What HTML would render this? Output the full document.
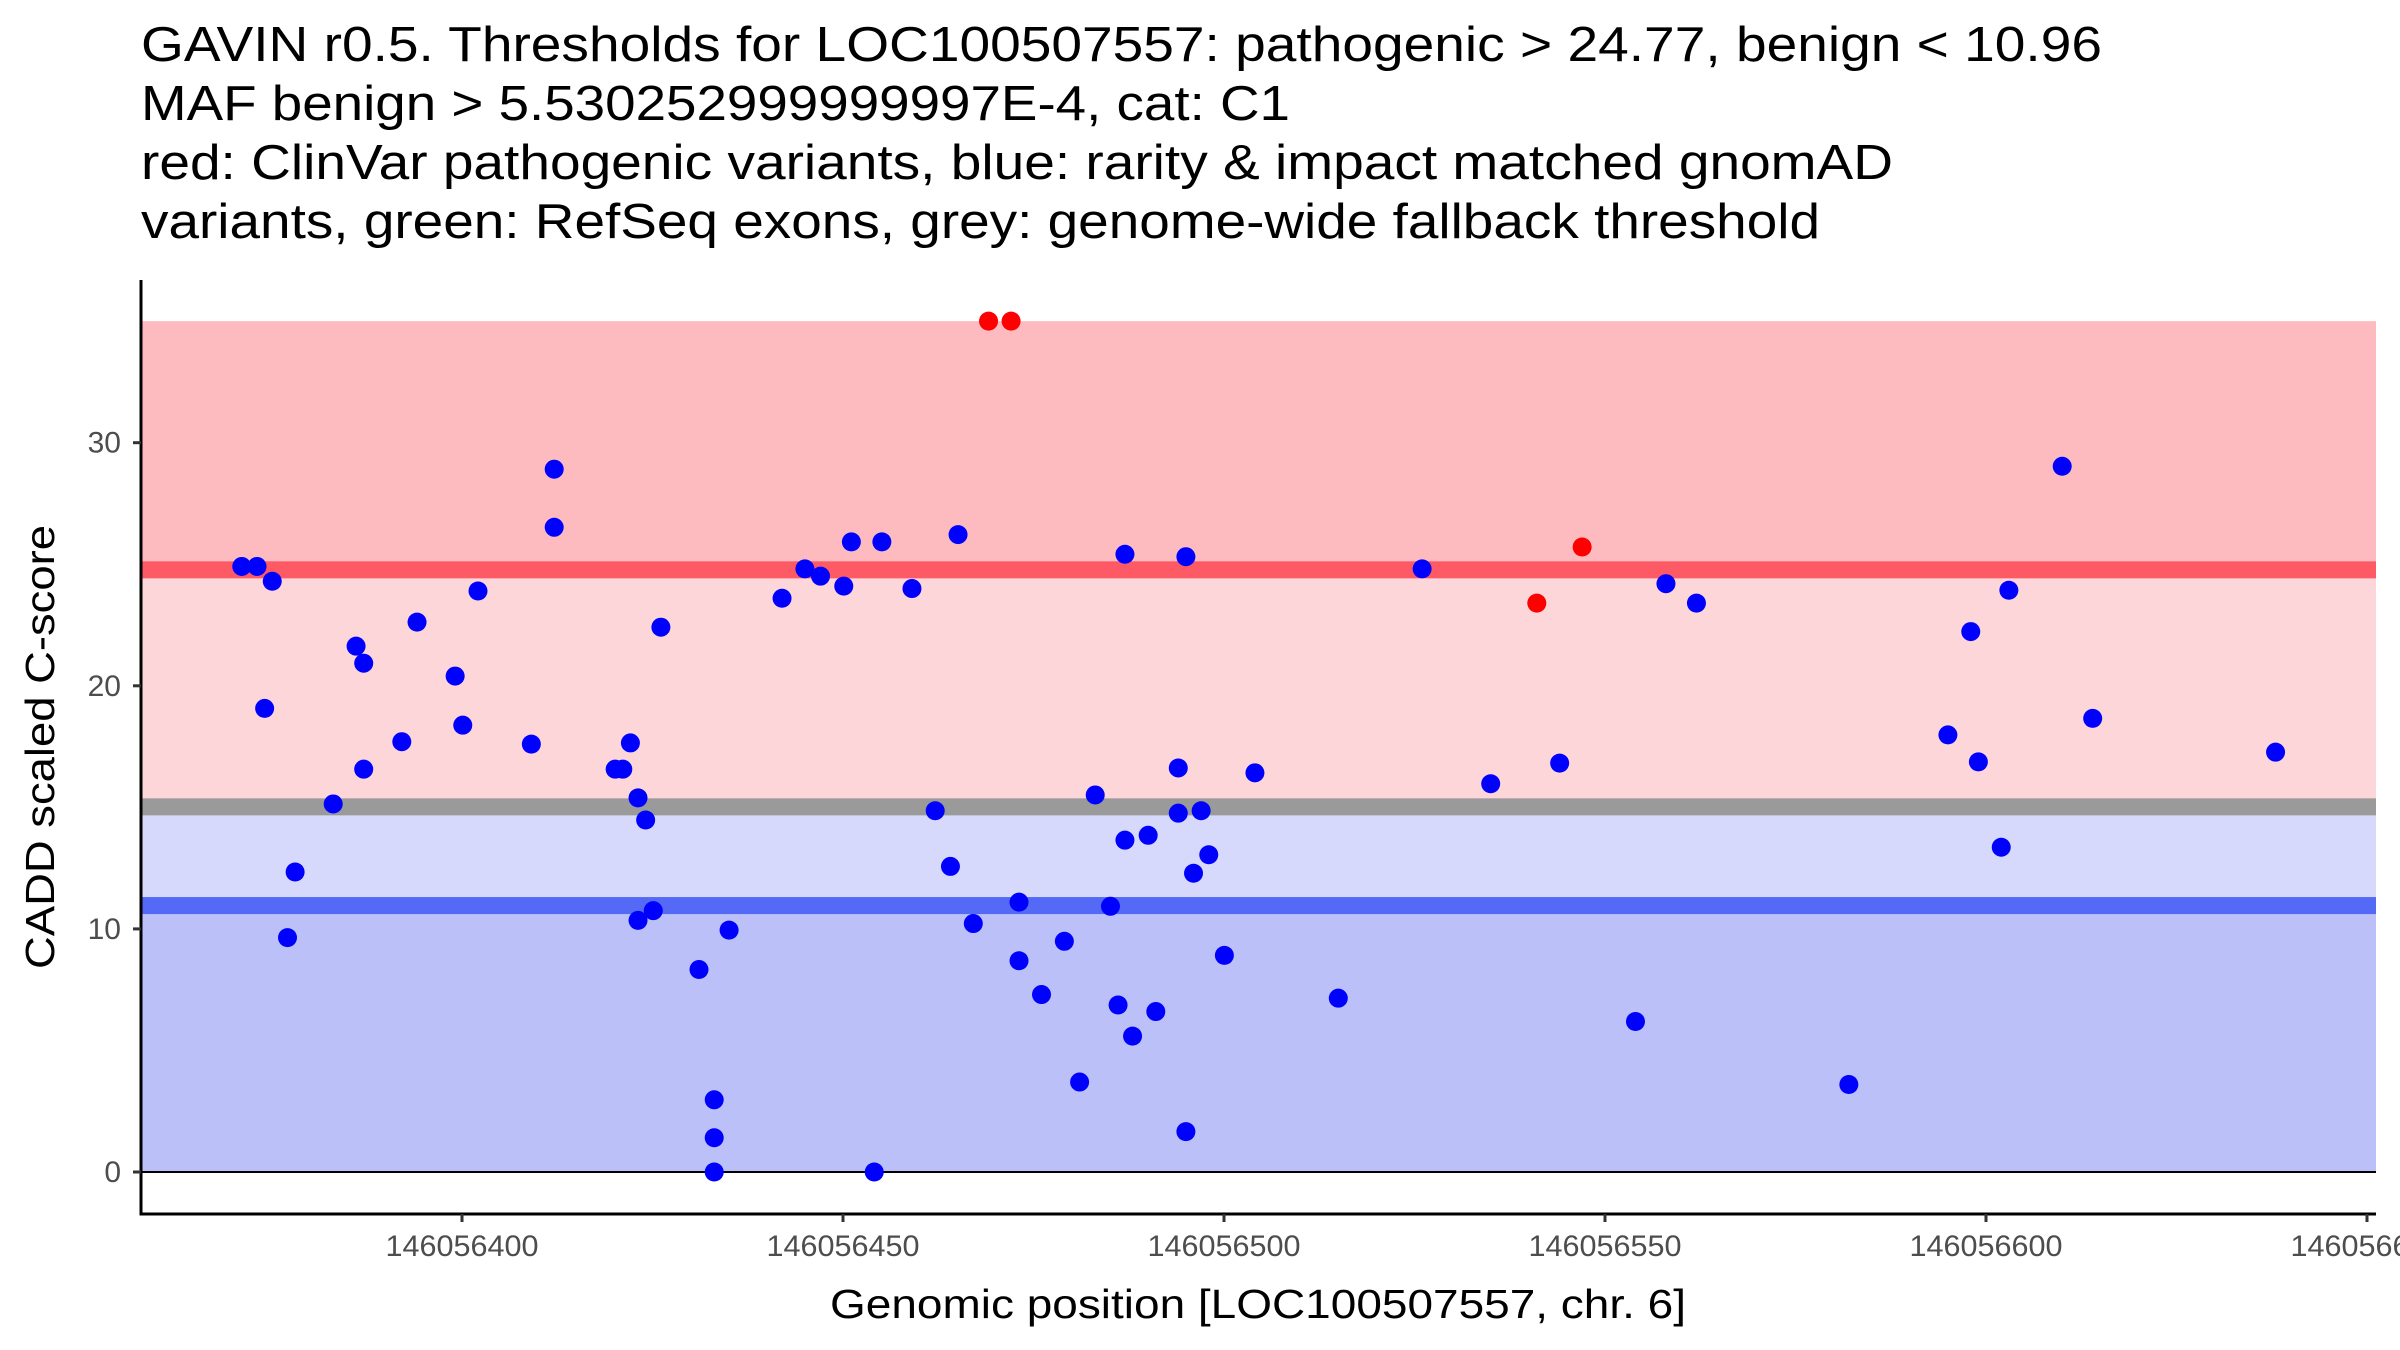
<!DOCTYPE html>
<html><head><meta charset="utf-8">
<style>
html,body{margin:0;padding:0;background:#fff;}
svg{display:block;font-family:"Liberation Sans",Arial,sans-serif;}
</style></head>
<body>
<svg id="chart" width="2400" height="1350" viewBox="0 0 2400 1350" xmlns="http://www.w3.org/2000/svg">
  <g font-size="49" fill="#000">
    <text x="141" y="61" textLength="1961" lengthAdjust="spacingAndGlyphs">GAVIN r0.5. Thresholds for LOC100507557: pathogenic &gt; 24.77, benign &lt; 10.96</text>
    <text x="141" y="120" textLength="1149" lengthAdjust="spacingAndGlyphs">MAF benign &gt; 5.530252999999997E-4, cat: C1</text>
    <text x="141" y="179" textLength="1752" lengthAdjust="spacingAndGlyphs">red: ClinVar pathogenic variants, blue: rarity &amp; impact matched gnomAD</text>
    <text x="141" y="238" textLength="1679" lengthAdjust="spacingAndGlyphs">variants, green: RefSeq exons, grey: genome-wide fallback threshold</text>
  </g>
  <g id="bands"></g>
  <g id="points"></g>
  <g id="axes"></g>
  <text x="1258" y="1318" font-size="41" text-anchor="middle" textLength="856" lengthAdjust="spacingAndGlyphs" fill="#000">Genomic position [LOC100507557, chr. 6]</text>
  <text x="0" y="0" font-size="41" text-anchor="middle" textLength="444" lengthAdjust="spacingAndGlyphs" fill="#000" transform="translate(54,747) rotate(-90)">CADD scaled C-score</text>
</svg>
<script>
const xOffset = 146056000;
const benignX = [371.1,373.1,375.1,374.1,378.1,377.1,383.1,386.1,387.1,387.1,392.1,394.1,399.1,400.1,402.1,409.1,412.1,412.1,420.1,421.1,422.1,423.1,424.1,423.1,425.1,426.1,431.1,433.1,433.1,433.1,435.05,442.0,445.0,447.05,450.1,451.1,455.1,454.1,459.05,462.1,464.1,465.1,467.1,473.1,473.1,476.05,479.05,481.05,483.1,485.1,486.1,487.0,487.0,488.0,490.05,491.05,494.0,494.0,495.0,495.0,496.0,497.0,498.0,500.05,504.06,515.0,526.0,535.0,544.05,554.0,558.0,562.0,582.0,610.0,603.0,598.0,595.0,599.0,614.0,602.0,638.0];
const benignY = [24.91,24.91,24.30,19.07,12.34,9.64,15.14,21.63,20.93,16.57,17.70,22.62,20.40,18.38,23.90,17.60,28.91,26.52,16.57,16.57,17.65,15.39,14.48,10.35,10.75,22.41,8.33,2.97,1.41,0.0,9.95,23.60,24.81,24.51,24.10,25.92,25.92,0.0,24.0,14.86,12.57,26.22,10.22,11.10,8.69,7.30,9.49,3.70,15.51,10.93,6.87,25.41,13.65,5.59,13.85,6.60,16.62,14.76,25.31,1.66,12.29,14.86,13.05,8.91,16.42,7.15,24.81,15.97,16.82,6.19,24.20,23.40,3.60,29.03,23.93,22.23,17.98,16.87,18.66,13.36,17.27];
const pathoX = [469.1,472.06,541.05,547.0];
const pathoY = [35.0,35.0,23.40,25.71];
const pathogenicThreshold = 24.77;
const benignThreshold = 10.96;
const fallbackThreshold = 15.02;
const bandTop = 35.0;
const yTicks = [0,10,20,30];
const xTicks = [400,450,500,550,600,650];
const xTickLabels = ["146056400","146056450","146056500","146056550","146056600","146056650"];

const L = 141, R = 2376, AXB = 1214, TOP = 280;
function sx(v){ return 462 + (v - 400) * 7.62; }
function sy(v){ return 1172 - v * 24.31; }
const NS = "http://www.w3.org/2000/svg";
function mk(tag, attrs, parent){ const e = document.createElementNS(NS, tag); for (const k in attrs) e.setAttribute(k, attrs[k]); parent.appendChild(e); return e; }

const bands = document.getElementById('bands');
let r;
r = mk('rect', {x:L, y:sy(bandTop), width:R-L, height:sy(pathogenicThreshold)-sy(bandTop), fill:'#fdbbc0'}, bands);


r = mk('rect', {x:L, y:sy(pathogenicThreshold), width:R-L, height:sy(fallbackThreshold)-sy(pathogenicThreshold), fill:'#fdd6da'}, bands);


r = mk('rect', {x:L, y:sy(fallbackThreshold), width:R-L, height:sy(benignThreshold)-sy(fallbackThreshold), fill:'#d7d9fc'}, bands);


r = mk('rect', {x:L, y:sy(benignThreshold), width:R-L, height:sy(0)-sy(benignThreshold), fill:'#bbc0f9'}, bands);


r = mk('rect', {x:L, y:sy(pathogenicThreshold)-8.5, width:R-L, height:17, fill:'#fd5a66'}, bands);


r = mk('rect', {x:L, y:sy(fallbackThreshold)-8.5, width:R-L, height:17, fill:'#9a9a9a'}, bands);


r = mk('rect', {x:L, y:sy(benignThreshold)-8.5, width:R-L, height:17, fill:'#5469f5'}, bands);


r = mk('line', {x1:L, x2:R, y1:sy(0), y2:sy(0), stroke:'#000', 'stroke-width':2}, bands);



const pts = document.getElementById('points');
for (let i = 0; i < benignX.length; i++) {
  const c = mk('circle', {cx:sx(benignX[i]), cy:sy(benignY[i]), r:9.5, fill:'#0000ff'}, pts);
  
  
}
for (let i = 0; i < pathoX.length; i++) {
  const c = mk('circle', {cx:sx(pathoX[i]), cy:sy(pathoY[i]), r:9.5, fill:'#ff0000'}, pts);
  
  
}

const ax = document.getElementById('axes');
let a;
a = mk('line', {x1:L, x2:L, y1:TOP, y2:AXB+1.5, stroke:'#000', 'stroke-width':3}, ax);


a = mk('line', {x1:L-1.5, x2:R, y1:AXB, y2:AXB, stroke:'#000', 'stroke-width':3}, ax);


for (let i = 0; i < yTicks.length; i++) {
  const y = sy(yTicks[i]);
  const t = mk('line', {x1:L-8, x2:L, y1:y, y2:y, stroke:'#333', 'stroke-width':3}, ax);
  
  
  const tx = mk('text', {x:L-20, y:y+10, 'font-size':30, 'text-anchor':'end', fill:'#4d4d4d'}, ax);
  tx.textContent = String(yTicks[i]);
  
  
}
for (let i = 0; i < xTicks.length; i++) {
  const x = sx(xTicks[i]);
  const t = mk('line', {x1:x, x2:x, y1:AXB, y2:AXB+8, stroke:'#333', 'stroke-width':3}, ax);
  
  
  const tx = mk('text', {x:x, y:AXB+42, 'font-size':30, 'text-anchor':'middle', textLength:153, lengthAdjust:'spacingAndGlyphs', fill:'#4d4d4d'}, ax);
  tx.textContent = xTickLabels[i];
  
  
}
</script>
</body></html>
